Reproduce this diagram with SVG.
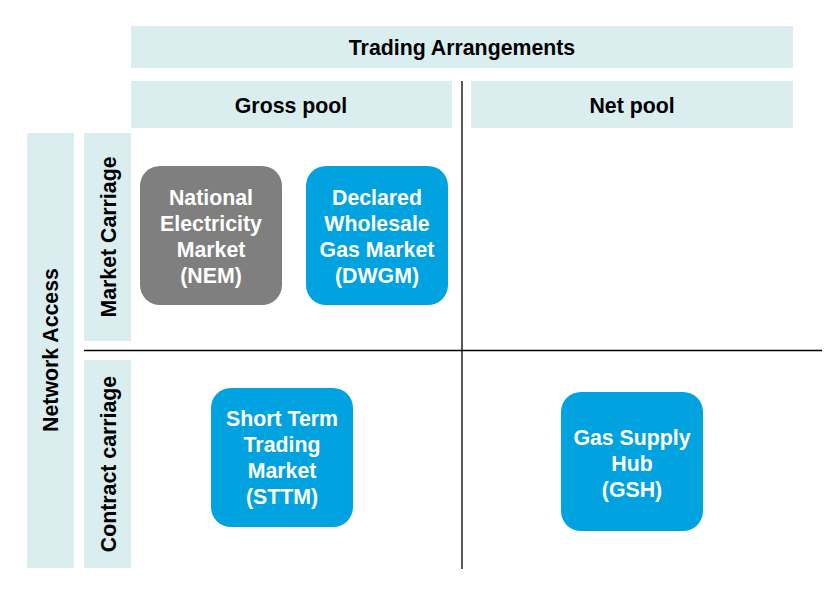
<svg xmlns="http://www.w3.org/2000/svg" width="837" height="591" viewBox="0 0 837 591">
<style>
.bar{fill:#DAEDEF}
.hd{font-family:"Liberation Sans",Arial,sans-serif;font-weight:bold;font-size:21.3px;fill:#000;text-anchor:middle}
.nt{font-family:"Liberation Sans",Arial,sans-serif;font-weight:bold;font-size:21.3px;fill:#fff;text-anchor:middle}
.blue{fill:#00A3E0}
.gray{fill:#7F7F7F}
.ln{stroke:#000;stroke-width:1.3;fill:none}
</style>
<rect width="837" height="591" fill="#fff"/>
<g id="trading-arrangements"><rect class="bar" x="131" y="26" width="662" height="42"/><text class="hd" x="462" y="54.5">Trading Arrangements</text></g>
<g id="gross-pool"><rect class="bar" x="131" y="81" width="321" height="47"/><text class="hd" x="291" y="112.5">Gross pool</text></g>
<g id="net-pool"><rect class="bar" x="471" y="81" width="322" height="47"/><text class="hd" x="632" y="112.5">Net pool</text></g>
<g id="network-access"><rect class="bar" x="27" y="133" width="47" height="435"/><text class="hd" transform="translate(58,350) rotate(-90)">Network Access</text></g>
<g id="market-carriage"><rect class="bar" x="84" y="133" width="47" height="208"/><text class="hd" transform="translate(115.5,237) rotate(-90)">Market Carriage</text></g>
<g id="contract-carriage"><rect class="bar" x="84" y="360" width="47" height="208"/><text class="hd" transform="translate(115.5,464) rotate(-90)">Contract carriage</text></g>
<g id="connectors">
<line class="ln" x1="462" y1="81" x2="462" y2="569"/>
<line class="ln" x1="84" y1="350.5" x2="822" y2="350.5"/>
</g>
<g id="nem"><rect class="gray" x="140" y="166" width="142" height="139" rx="20"/>
<text class="nt" x="211" y="204.5">National</text><text class="nt" x="211" y="230.5">Electricity</text><text class="nt" x="211" y="256.5">Market</text><text class="nt" x="211" y="282.5">(NEM)</text></g>
<g id="dwgm"><rect class="blue" x="306" y="166" width="142" height="139" rx="20"/>
<text class="nt" x="377" y="204.5">Declared</text><text class="nt" x="377" y="230.5">Wholesale</text><text class="nt" x="377" y="256.5">Gas Market</text><text class="nt" x="377" y="282.5">(DWGM)</text></g>
<g id="sttm"><rect class="blue" x="211" y="388" width="142" height="139" rx="20"/>
<text class="nt" x="282" y="425.5">Short Term</text><text class="nt" x="282" y="451.5">Trading</text><text class="nt" x="282" y="477.5">Market</text><text class="nt" x="282" y="503.5">(STTM)</text></g>
<g id="gsh"><rect class="blue" x="561" y="392" width="142" height="139" rx="20"/>
<text class="nt" x="632" y="444.5">Gas Supply</text><text class="nt" x="632" y="470.5">Hub</text><text class="nt" x="632" y="496.5">(GSH)</text></g>
</svg>
